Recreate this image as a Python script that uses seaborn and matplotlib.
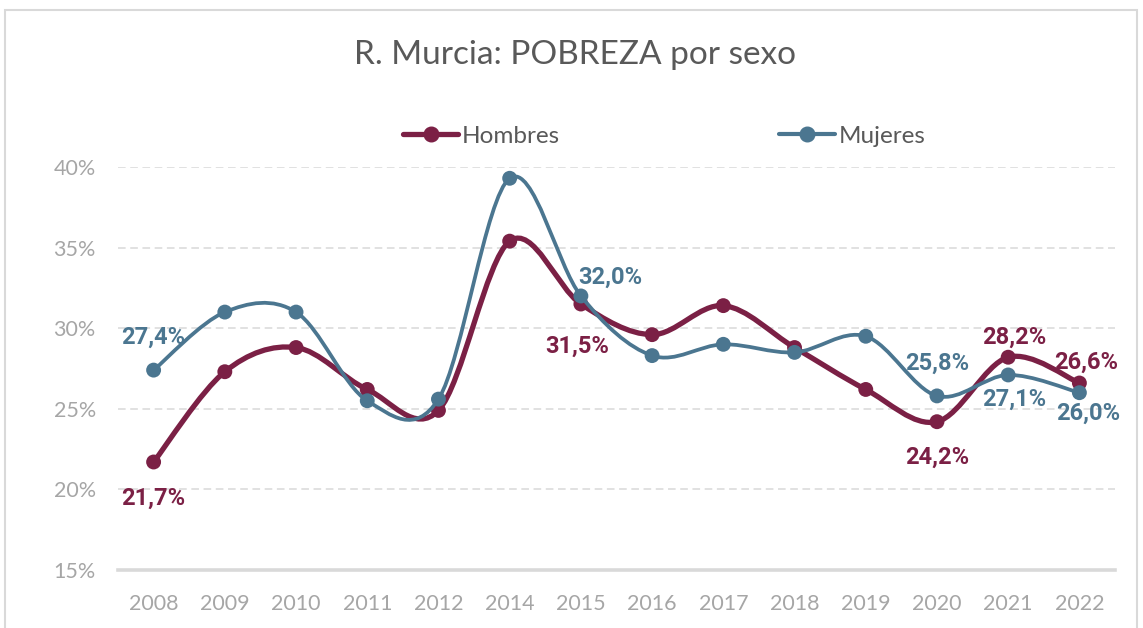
import numpy as np
import pandas as pd
import matplotlib
matplotlib.use("Agg")
from matplotlib import pyplot as plt
from matplotlib.path import Path
from matplotlib.patches import PathPatch, Rectangle
from matplotlib.lines import Line2D
import seaborn as sns

years = ["2008", "2009", "2010", "2011", "2012", "2014", "2015",
         "2016", "2017", "2018", "2019", "2020", "2021", "2022"]
hombres = [21.7, 27.3, 28.8, 26.2, 24.9, 35.4, 31.5, 29.6, 31.4, 28.8, 26.2, 24.2, 28.2, 26.6]
mujeres = [27.4, 31.0, 31.0, 25.5, 25.6, 39.3, 32.0, 28.3, 29.0, 28.5, 29.5, 25.8, 27.1, 26.0]

# which points carry a value label, and offset of the label in pixels (dx, dy up)
labels_h = {"2008": (0, -36), "2015": (-4, -42), "2020": (0, -36), "2021": (6, 20), "2022": (7, 21)}
labels_m = {"2008": (0, 33), "2015": (29, 19), "2020": (0, 33), "2021": (6, -24), "2022": (9, -21)}

col_h = "#7b2045"
col_m = "#4b7690"
grey_txt = "#a6a6a6"
grey_line = "#d9d9d9"

df = pd.DataFrame({
    "year": years * 2,
    "pos": list(range(len(years))) * 2,
    "sexo": ["Hombres"] * len(years) + ["Mujeres"] * len(years),
    "valor": hombres + mujeres,
})

sns.set_theme(style="white")
plt.rcParams["font.family"] = ["Lato", "DejaVu Sans"]


def smooth_path(x, y):
    # bezier through the points, like Excel's "smoothed line"
    pts = np.column_stack([x, y]).astype(float)
    p = np.vstack([pts[0], pts, pts[-1]])
    verts = [pts[0]]
    codes = [Path.MOVETO]
    for i in range(len(pts) - 1):
        p0, p1, p2, p3 = p[i], p[i + 1], p[i + 2], p[i + 3]
        verts += [p1 + (p2 - p0) / 6, p2 - (p3 - p1) / 6, p2]
        codes += [Path.CURVE4] * 3
    return Path(verts, codes)


W, H = 1143, 628
fig = plt.figure(figsize=(W / 100, H / 100), dpi=100)
ax = fig.add_axes([118 / W, 1 - 570 / H, (1115 - 118) / W, (570 - 167) / H])

series = [("Hombres", col_h, 3.8, labels_h, 2), ("Mujeres", col_m, 2.7, labels_m, 4)]
for name, col, lw, labs, z in series:
    sub = df[df["sexo"] == name]
    ax.add_patch(PathPatch(smooth_path(sub["pos"], sub["valor"]), facecolor="none",
                           edgecolor=col, lw=lw, zorder=z, capstyle="round"))
    sns.scatterplot(data=sub, x="pos", y="valor", color=col, s=115, edgecolor="none",
                    legend=False, ax=ax, zorder=z + 0.5)
    for _, r in sub.iterrows():
        if r["year"] in labs:
            dx, dy = labs[r["year"]]
            ax.annotate(f"{r['valor']:.1f}".replace(".", ",") + "%", (r["pos"], r["valor"]),
                        xytext=(dx * 0.72, dy * 0.72), textcoords="offset points",
                        ha="center", va="center", fontsize=17, fontweight="bold",
                        family=["Roboto", "DejaVu Sans"], color=col, zorder=6)

ax.set_xlim(-0.5, len(years) - 0.5)
ax.set_ylim(15, 40)
ax.set_xticks(range(len(years)))
ax.set_xticklabels(years)
ax.set_yticks([15, 20, 25, 30, 35, 40])
ax.set_yticklabels([f"{t}%" for t in [15, 20, 25, 30, 35, 40]])
ax.tick_params(axis="both", length=0, labelsize=15.5, labelcolor=grey_txt)
ax.tick_params(axis="y", pad=16)
ax.tick_params(axis="x", pad=17)
ax.set_xlabel("")
ax.set_ylabel("")
ax.yaxis.grid(True, color=grey_line, linestyle=(0, (5, 3)), lw=1.1)
ax.set_axisbelow(True)
for s in ["left", "right", "top"]:
    ax.spines[s].set_visible(False)
ax.spines["bottom"].set_color(grey_line)
ax.spines["bottom"].set_linewidth(2.6)

fig.text(0.503, 1 - 55 / H, "R. Murcia: POBREZA por sexo", ha="center", va="center",
         fontsize=24, color="#595959")

handles = [Line2D([], [], color=col_h, lw=3.8, marker="o", markersize=10.5),
           Line2D([], [], color=col_m, lw=3.0, marker="o", markersize=10.5)]
leg = fig.legend(handles, ["Hombres", "Mujeres"], loc="center", ncol=2,
                 bbox_to_anchor=(664 / W, 1 - 136 / H), frameon=False, fontsize=17.5,
                 handlelength=2.3, handletextpad=0.15, columnspacing=9.0)
for t in leg.get_texts():
    t.set_color("#595959")

fig.patches.append(Rectangle((5 / W, -0.02), (1137 - 5) / W, 1 - 10 / H + 0.02,
                             transform=fig.transFigure, fill=False,
                             edgecolor=grey_line, lw=1.5))

plt.savefig("out.png", dpi=100)
